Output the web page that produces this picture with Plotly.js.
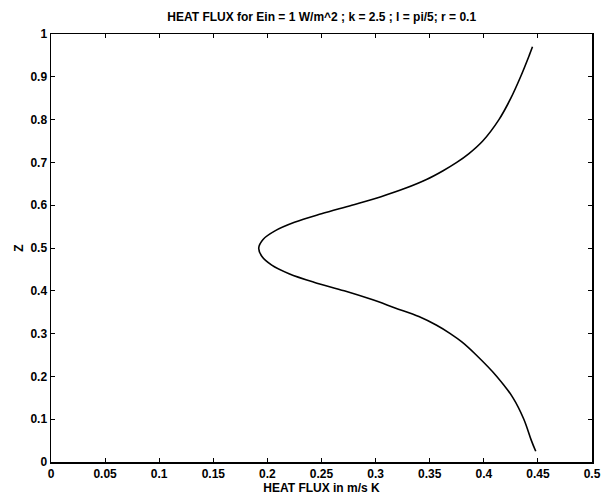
<!DOCTYPE html>
<html>
<head>
<meta charset="utf-8">
<script src="https://cdn.plot.ly/plotly-3.0.1.min.js"></script>
<style>html,body{margin:0;padding:0;background:#fff;}#chart{width:607px;height:497px;}</style>
</head>
<body>
<div id="chart"></div>
<script>
// Z (height) values, bottom to top
const zValues = [0.025, 0.05, 0.10, 0.15, 0.20, 0.25, 0.28, 0.30, 0.32, 0.34, 0.36, 0.38, 0.40, 0.42, 0.44, 0.46, 0.48, 0.50,
                 0.52, 0.54, 0.56, 0.58, 0.60, 0.62, 0.64, 0.66, 0.68, 0.70, 0.72, 0.75, 0.80, 0.85, 0.90, 0.95, 0.97];
// Heat flux (m/s K)
const heatFlux = [0.448, 0.444, 0.437, 0.427, 0.412, 0.393, 0.380, 0.369, 0.356, 0.340, 0.318, 0.296, 0.271, 0.243, 0.220, 0.204, 0.195, 0.192,
                  0.196, 0.207, 0.225, 0.250, 0.278, 0.305, 0.328, 0.347, 0.362, 0.375, 0.386, 0.399, 0.414, 0.425, 0.434, 0.442, 0.445];
const xTicks = [0, 0.05, 0.1, 0.15, 0.2, 0.25, 0.3, 0.35, 0.4, 0.45, 0.5];
const xTickLabels = ['0', '0.05', '0.1', '0.15', '0.2', '0.25', '0.3', '0.35', '0.4', '0.45', '0.5'];
const yTicks = [0, 0.1, 0.2, 0.3, 0.4, 0.5, 0.6, 0.7, 0.8, 0.9, 1];
const yTickLabels = ['0', '0.1', '0.2', '0.3', '0.4', '0.5', '0.6', '0.7', '0.8', '0.9', '1'];

const font = {family: 'Liberation Sans, Arial, sans-serif', size: 12, color: '#000', weight: 'bold'};

const trace = {
  x: heatFlux, y: zValues, type: 'scatter', mode: 'lines',
  line: {color: '#000', width: 1.6, shape: 'spline', smoothing: 1},
  hoverinfo: 'skip'
};

const axisCommon = {
  showgrid: false, zeroline: false, showline: true, linecolor: '#000', linewidth: 1.5,
  mirror: 'ticks', ticks: 'inside', ticklen: 4, tickwidth: 1, tickcolor: '#000',
  tickfont: font
};

const layout = {
  width: 607, height: 497,
  margin: {l: 51, r: 15, t: 34, b: 35},
  paper_bgcolor: '#fff', plot_bgcolor: '#fff',
  showlegend: false,
  font: font,
  title: {text: 'HEAT FLUX for Ein = 1 W/m^2 ; k = 2.5 ; l = pi/5; r = 0.1', font: font, x: 0.53, xanchor: 'center', y: 0.975, yanchor: 'top'},
  xaxis: Object.assign({}, axisCommon, {
    range: [0, 0.5], tickvals: xTicks, ticktext: xTickLabels,
    title: {text: 'HEAT FLUX in m/s K', font: font, standoff: 0}
  }),
  yaxis: Object.assign({}, axisCommon, {
    range: [0, 1], tickvals: yTicks, ticktext: yTickLabels,
    title: {text: 'Z', font: font, standoff: 4}
  })
};

Plotly.newPlot('chart', [trace], layout, {displayModeBar: false, staticPlot: true});
</script>
</body>
</html>
